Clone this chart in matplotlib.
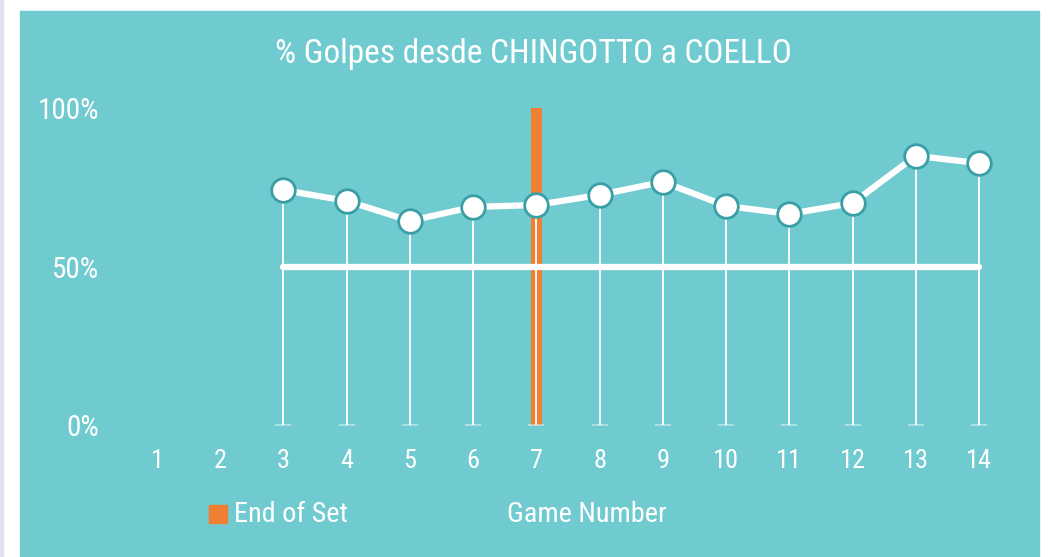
import numpy as np
import matplotlib.pyplot as plt
from matplotlib.patches import Rectangle
from matplotlib import font_manager as fm

# data
games = [3, 4, 5, 6, 7, 8, 9, 10, 11, 12, 13, 14]
pct = [74.1, 70.7, 64.4, 68.8, 69.4, 72.6, 76.7, 69.1, 66.6, 70.0, 84.9, 82.6]
xticks = list(range(1, 15))
yticks = [0, 50, 100]
ytick_labels = ['0%', '50%', '100%']
end_of_set = [7]
end_height = [100]
reference = 50

teal = '#70CBD0'
edge = '#3A9FA5'
orange = '#EE7F33'

# pick a narrow face if one is installed
names = {f.name for f in fm.fontManager.ttflist}
condensed = {f.name for f in fm.fontManager.ttflist if f.stretch in ('condensed', 'semi-condensed', 'extra-condensed', 600, 500)}
font = 'DejaVu Sans'
stretch = 'normal'
for cand in ['Roboto Condensed', 'Liberation Sans Narrow', 'Open Sans Condensed', 'DejaVu Sans Condensed', 'Noto Sans Condensed']:
    if cand in names:
        font = cand
        break
else:
    if 'DejaVu Sans' in condensed:
        stretch = 'condensed'
    elif 'Roboto' in names:
        font = 'Roboto'

W, H = 1049, 557
fig = plt.figure(figsize=(W / 100, H / 100), dpi=100)
fig.patch.set_facecolor('white')

def px(x0, y0, w, h):
    # pixel box (from top-left) to figure fraction
    return (x0 / W, 1 - (y0 + h) / H, w / W, h / H)

fig.patches.append(Rectangle((0, 0), 3 / W, 1, transform=fig.transFigure,
                             color='#E2E2F4', zorder=-2))
b = px(20, 11, 1019, 546)
fig.patches.append(Rectangle(b[:2], b[2], b[3], transform=fig.transFigure,
                             color=teal, zorder=-2))

# axes placed so that x=1 -> 157px, x=14 -> 979px, y=0 -> 425px, y=100 -> 108px
sx = (979 - 157) / 13
sy = (425 - 108) / 100
xlo, xhi = 0.3, 14.7
ylo, yhi = 0, 105
left = 157 + (xlo - 1) * sx
top = 425 - yhi * sy
ax = fig.add_axes(px(left, top, (xhi - xlo) * sx, (yhi - ylo) * sy), zorder=2)
ax.set_xlim(xlo, xhi)
ax.set_ylim(ylo, yhi)
ax.patch.set_alpha(0)
for s in ax.spines.values():
    s.set_visible(False)

# end of set bar
ax.bar(end_of_set, end_height, width=0.17, color=orange, zorder=1)

# drop lines with faint bottom caps
ax.vlines(games, 0, pct, color='white', lw=1.3, zorder=2)
ax.plot(games, [0] * len(games), ls='none', marker='_', ms=12, mew=1.2,
        color='white', alpha=0.5, zorder=2, clip_on=False)

# 50% line
ax.plot([games[0], games[-1]], [reference, reference], color='white', lw=4.5,
        solid_capstyle='round', zorder=3)

# series
ax.plot(games, pct, color='white', lw=4.5, zorder=4, marker='o', ms=17,
        mfc='white', mec=edge, mew=2, clip_on=False)

ax.set_xticks(xticks)
ax.set_xticklabels([str(t) for t in xticks])
ax.set_yticks(yticks)
ax.set_yticklabels(ytick_labels)
ax.tick_params(length=0, colors='white')
ax.tick_params(axis='x', pad=17.5, labelsize=19)
ax.tick_params(axis='y', pad=9.5, labelsize=21)
for lab in ax.get_xticklabels() + ax.get_yticklabels():
    lab.set_family(font)
    lab.set_stretch(stretch)

fig.text(533 / W, 1 - 54 / H, '% Golpes desde CHINGOTTO a COELLO', color='white',
         fontsize=24, family=font, stretch=stretch, ha='center', va='center')

# legend and axis title
fig.patches.append(Rectangle(px(209, 505, 18, 18)[:2], 18 / W, 18 / H,
                             transform=fig.transFigure, color=orange))
fig.text(234 / W, 1 - 515 / H, 'End of Set', color='white', fontsize=20.3,
         family=font, stretch=stretch, ha='left', va='center')
fig.text(587 / W, 1 - 515 / H, 'Game Number', color='white', fontsize=20.3,
         family=font, stretch=stretch, ha='center', va='center')

fig.savefig('out.png', dpi=100, facecolor=fig.get_facecolor())
